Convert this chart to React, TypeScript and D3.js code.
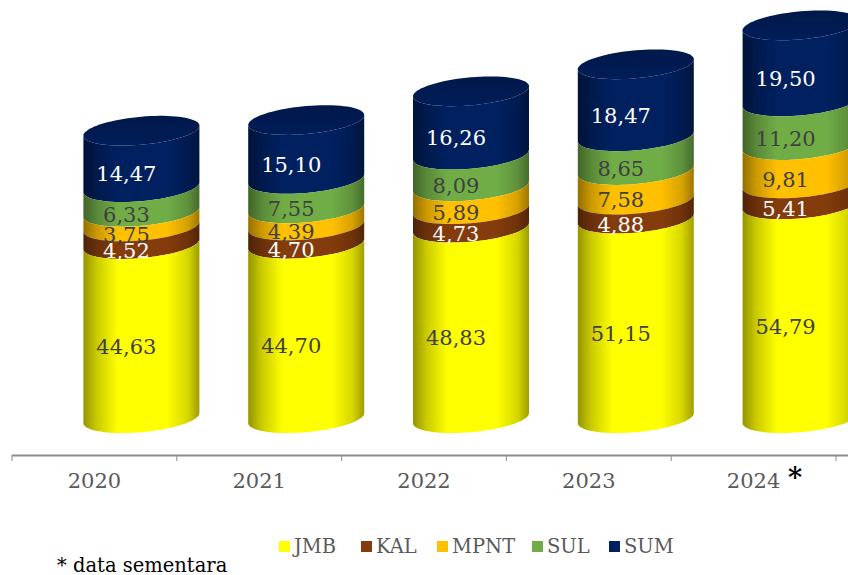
import React from "react";
import * as d3 from "d3";

const years = ["2020", "2021", "2022", "2023", "2024"];
const yearLabels = ["2020", "2021", "2022", "2023", "2024"];
const seriesNames = ["JMB", "KAL", "MPNT", "SUL", "SUM"];
const JMB = [44.63, 44.7, 48.83, 51.15, 54.79];
const KAL = [4.52, 4.7, 4.73, 4.88, 5.41];
const MPNT = [3.75, 4.39, 5.89, 7.58, 9.81];
const SUL = [6.33, 7.55, 8.09, 8.65, 11.2];
const SUM = [14.47, 15.1, 16.26, 18.47, 19.5];
const seriesValues = [JMB, KAL, MPNT, SUL, SUM];
const colors = ["#ffff00", "#843c0c", "#ffc000", "#70ad47", "#002060"];
const labelColors = ["#404040", "#ffffff", "#404040", "#404040", "#ffffff"];
const legendX = [279, 361, 437, 532, 609];

const W = 848, H = 575;
const FONT = "'DejaVu Serif', serif";
const rx = 58, tilt = 5, ry = 14;
const frontDrop = Math.sqrt(ry * ry + tilt * tilt);
const barShift = 47;

const x = d3.scaleBand<string>().domain(years).range([12, 836]);
const y = d3.scaleLinear().domain([0, 100]).range([433 - frontDrop, 43 - frontDrop]);

const ptsFront = d3.range(0, 41).map((i) => (Math.PI * i) / 40);
const pt = (cx: number, cy: number, t: number): [number, number] => [
  cx + rx * Math.cos(t),
  cy + ry * Math.sin(t) - tilt * Math.cos(t),
];
const line = d3.line();

function body(cx: number, y0: number, y1: number) {
  const lower = ptsFront.map((t) => pt(cx, y0, t));
  const upper = ptsFront.slice().reverse().map((t) => pt(cx, y1, t));
  return line([...lower, ...upper])! + "Z";
}
function topFace(cx: number, yc: number) {
  const pts = d3.range(0, 80).map((i) => pt(cx, yc, (Math.PI * i) / 40));
  return line(pts)! + "Z";
}
function shade(c: string, k: number) {
  const col = d3.rgb(c);
  return d3.rgb(col.r * k, col.g * k, col.b * k).formatHex();
}

export default function App() {
  const bars = years.map((yr, i) => {
    let acc = 0;
    const mid = x(yr)! + x.bandwidth() / 2;
    const cx = mid + barShift;
    const segs = seriesValues.map((s, j) => {
      const v0 = acc;
      acc += s[i];
      return { j, v: s[i], y0: y(v0), y1: y(acc) };
    });
    return { yr, mid, cx, segs, top: y(acc) };
  });
  return (
    <svg width={W} height={H} style={{ position: "absolute", left: 0, top: 0, background: "#fff" }} fontFamily={FONT}>
      <defs>
        {colors.map((c, j) => (
          <linearGradient key={j} id={`g${j}`} x1="0" x2="1" y1="0" y2="0">
            <stop offset="0" stopColor={shade(c, 0.58)} />
            <stop offset="0.12" stopColor={shade(c, 0.8)} />
            <stop offset="0.3" stopColor={c} />
            <stop offset="0.72" stopColor={c} />
            <stop offset="0.9" stopColor={shade(c, 0.84)} />
            <stop offset="1" stopColor={shade(c, 0.62)} />
          </linearGradient>
        ))}
        <linearGradient id="gtop" x1="0" x2="0" y1="0" y2="1">
          <stop offset="0" stopColor="#00184a" />
          <stop offset="1" stopColor="#001d58" />
        </linearGradient>
      </defs>

      {bars.map((b) => (
        <g key={b.yr}>
          {b.segs.slice().reverse().map((s) => (
            <path key={s.j} d={body(b.cx, s.y0, s.y1)} fill={`url(#g${s.j})`} />
          ))}
          <path d={topFace(b.cx, b.top)} fill="url(#gtop)" />
          {b.segs.map((s) => (
            <text
              key={s.j}
              x={b.cx - 15}
              y={(s.y0 + s.y1) / 2 + frontDrop}
              dy="0.36em"
              textAnchor="middle"
              fontSize={21}
              fill={labelColors[s.j]}
            >
              {s.v.toFixed(2).replace(".", ",")}
            </text>
          ))}
        </g>
      ))}

      <line x1={12} x2={W} y1={455.5} y2={455.5} stroke="#8c8c8c" strokeWidth={2} />
      {d3.range(0, 6).map((i) => {
        const tx = 12 + i * x.bandwidth();
        return <line key={i} x1={tx} x2={tx} y1={455} y2={461} stroke="#8c8c8c" strokeWidth={1} />;
      })}
      {bars.map((b, i) => (
        <text key={b.yr} x={b.mid} y={480} dy="0.36em" textAnchor="middle" fontSize={21} fill="#595959">
          {yearLabels[i]}
        </text>
      ))}
      <text x={795} y={487} textAnchor="middle" fontSize={27} fontWeight="bold" fill="#000">*</text>

      {seriesNames.map((n, j) => (
        <g key={n}>
          <rect x={legendX[j]} y={541} width={11} height={11} fill={colors[j]} />
          <text x={legendX[j] + 15} y={546} dy="0.36em" fontSize={19.5} fill="#595959">{n}</text>
        </g>
      ))}
      <text x={57} y={565} dy="0.36em" fontSize={19.5} fill="#000">* data sementara</text>
    </svg>
  );
}
